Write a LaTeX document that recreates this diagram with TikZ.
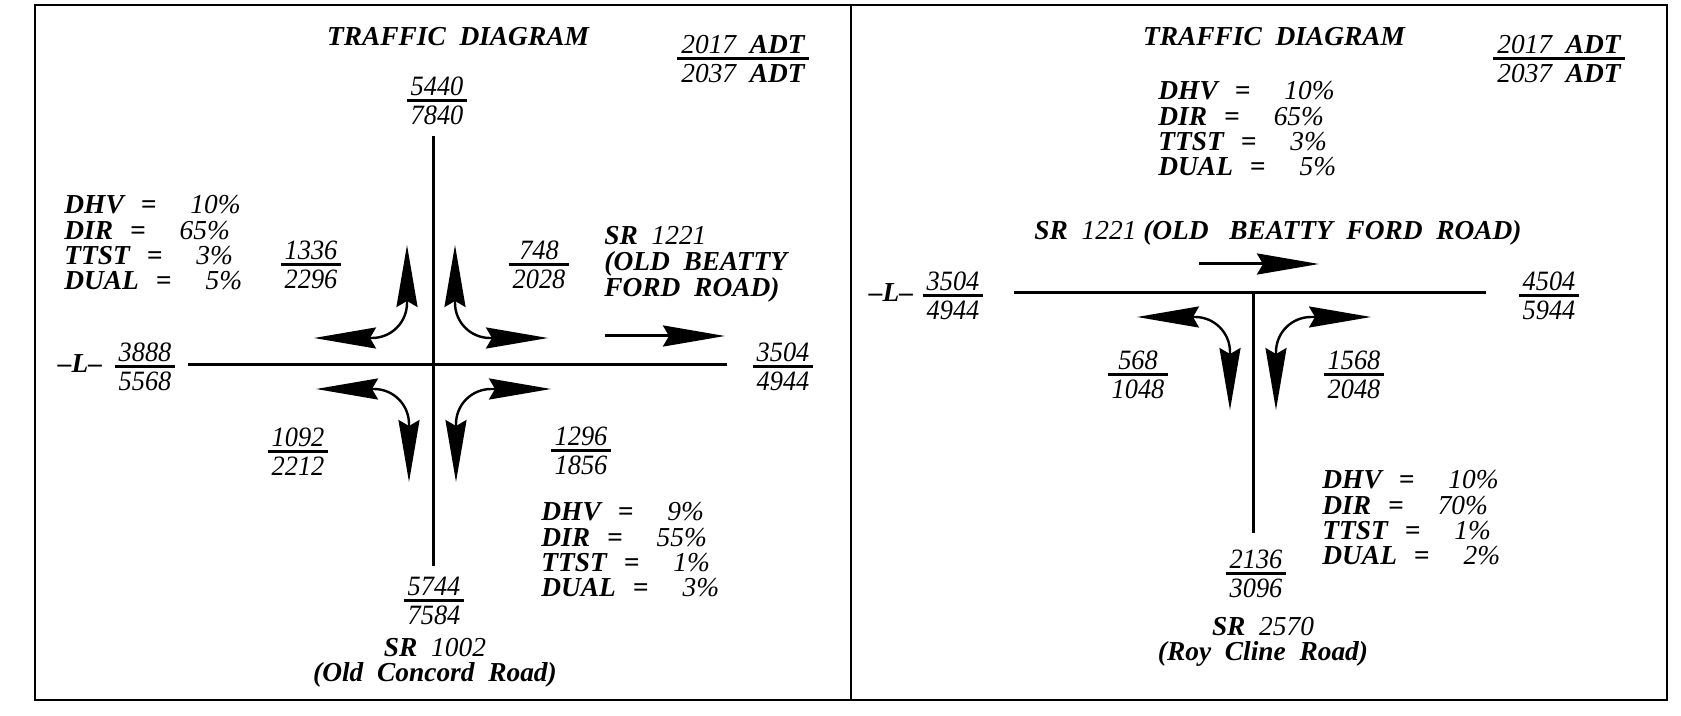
\documentclass[tikz,border=0pt]{standalone}
\usepackage{fontspec}
\setmainfont{Liberation Serif}
\newfontfamily\dgmn[FakeStretch=0.94]{Liberation Serif}
\usetikzlibrary{arrows.meta,positioning,calc}
\newcommand{\lite}[1]{{\mdseries #1}}
\newcommand{\vol}[2]{\vbox{\offinterlineskip\halign{\hskip2pt\hfil##\hfil\hskip2pt\cr#1\cr
  \noalign{\kern1.5pt\hrule height1.5pt\kern2pt}#2\cr}}}
\newcommand{\eq}{\hspace{8.5pt}=\hspace{17pt}}
\tikzset{
  road/.style={line width=1.5pt},
  frame/.style={line width=1pt},
}

\begin{document}
\begin{tikzpicture}[
  x=0.5pt, y=0.5pt,
  ttl/.style={font=\bfseries\itshape\fontsize{13.7}{14}\selectfont, inner sep=0pt},
  lbl/.style={font=\bfseries\itshape\fontsize{13.7}{12.7}\selectfont, inner sep=0pt, align=left},
  num/.style={font=\dgmn\itshape\fontsize{14}{14}\selectfont, inner sep=0pt, yshift=-1.5pt},
  thru/.style={line width=1.5pt, -{Stealth[length=31pt, width=10.5pt, inset=3pt]}},
  turn/.style={line width=1.2pt, {Stealth[length=31pt, width=10.5pt, inset=3pt]}-{Stealth[length=31pt, width=10.5pt, inset=3pt]}},
]
\useasboundingbox (0,0) rectangle (1681,-716);
% frame
\draw[frame] (35,-5) rectangle (1667,-700);
\draw[frame] (851,-5) -- (851,-700);

%%%% left panel: SR 1221 / SR 1002
\draw[road] (433,-136) -- (433,-566);
\draw[road] (188,-365) -- (727,-365);
\node[ttl] (titleA) at (458,-37) {TRAFFIC~~DIAGRAM};
\node[lbl] (adtA) at (743,-59) {\vol{\lite{2017}~~ADT}{\lite{2037}~~ADT}};
\node[num] (nA) at (437,-98) {\vol{5440}{7840}};
\node[lbl] (legA) at (80,-364) {–L–};
\node[num] (wA) at (145,-364) {\vol{3888}{5568}};
\node[num] (eA) at (783,-364) {\vol{3504}{4944}};
\node[num] (nwA) at (311,-262) {\vol{1336}{2296}};
\node[num] (neA) at (539,-262) {\vol{748}{2028}};
\node[num] (swA) at (298,-449) {\vol{1092}{2212}};
\node[num] (seA) at (581,-448) {\vol{1296}{1856}};
\node[num] (sA) at (434,-598) {\vol{5744}{7584}};
\node[lbl, anchor=north west] (kA) at (64,-195)
  {DHV\eq\lite{10\%}\\DIR\eq\lite{65\%}\\TTST\eq\lite{3\%}\\DUAL\eq\lite{5\%}};
\node[lbl, anchor=north west] (kB) at (541,-502)
  {DHV\eq\lite{9\%}\\DIR\eq\lite{55\%}\\TTST\eq\lite{1\%}\\DUAL\eq\lite{3\%}};
\node[lbl, font=\bfseries\itshape\fontsize{13.7}{13}\selectfont, anchor=north west] (roadA) at (604,-226)
  {SR~~\lite{1221}\\(OLD~~BEATTY\\FORD~~ROAD)};
\node[lbl, align=center] (roadS) at (435,-663) {SR~~\lite{1002}\\(Old~~Concord~~Road)};
% movements
\draw[thru] (605,-336) -- (725,-336);
\draw[turn] (314,-338) -- (372,-338) arc[start angle=-90, end angle=0, radius=35] -- (407,-245);
\draw[turn] (548,-338) -- (490,-338) arc[start angle=-90, end angle=-180, radius=35] -- (455,-245);
\draw[turn] (316,-389) -- (374,-389) arc[start angle=90, end angle=0, radius=35] -- (409,-482);
\draw[turn] (551,-389) -- (491,-389) arc[start angle=90, end angle=180, radius=35] -- (456,-482);

%%%% right panel: SR 1221 / SR 2570
\draw[road] (1014,-293) -- (1486,-293);
\draw[road] (1253,-293) -- (1253,-533);
\node[ttl] (titleB) at (1274,-37) {TRAFFIC~~DIAGRAM};
\node[lbl] (adtB) at (1559,-59) {\vol{\lite{2017}~~ADT}{\lite{2037}~~ADT}};
\node[lbl, anchor=north west] (kC) at (1158,-81)
  {DHV\eq\lite{10\%}\\DIR\eq\lite{65\%}\\TTST\eq\lite{3\%}\\DUAL\eq\lite{5\%}};
\node[lbl] (roadB) at (1278,-233) {SR~~\lite{1221}~(OLD~~~BEATTY~~FORD~~ROAD)};
\node[lbl] (legB) at (891,-293) {–L–};
\node[num] (wB) at (953,-293) {\vol{3504}{4944}};
\node[num] (eB) at (1549,-293) {\vol{4504}{5944}};
\node[num] (swB) at (1138,-372) {\vol{568}{1048}};
\node[num] (seB) at (1354,-372) {\vol{1568}{2048}};
\node[num] (sB) at (1256,-571) {\vol{2136}{3096}};
\node[lbl, anchor=north west] (kD) at (1322,-470)
  {DHV\eq\lite{10\%}\\DIR\eq\lite{70\%}\\TTST\eq\lite{1\%}\\DUAL\eq\lite{2\%}};
\node[lbl, align=center] (roadC) at (1263,-642) {SR~~\lite{2570}\\(Roy~~Cline~~Road)};
% movements
\draw[thru] (1199,-264) -- (1319,-264);
\draw[turn] (1137,-317) -- (1195,-317) arc[start angle=90, end angle=0, radius=35] -- (1230,-410);
\draw[turn] (1371,-317) -- (1311,-317) arc[start angle=90, end angle=180, radius=35] -- (1276,-410);
\end{tikzpicture}
\end{document}
